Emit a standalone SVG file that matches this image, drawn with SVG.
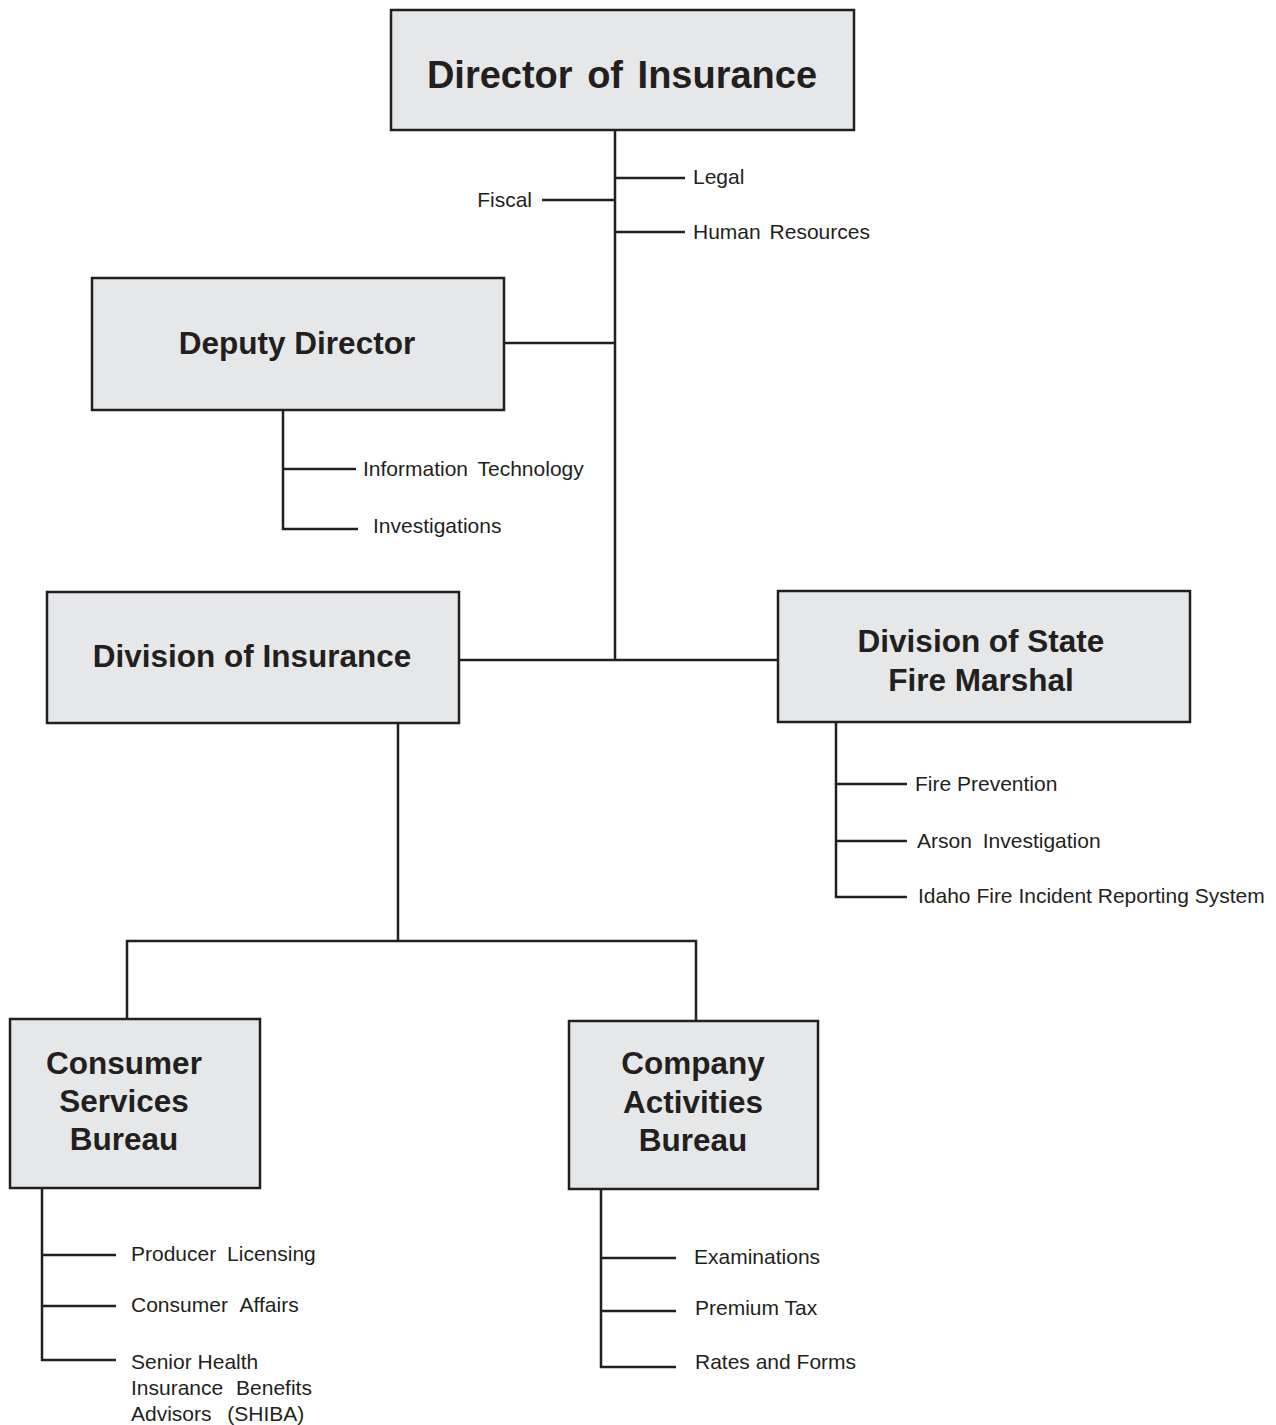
<svg xmlns="http://www.w3.org/2000/svg" width="1276" height="1425" viewBox="0 0 1276 1425">
<style>
.box{fill:#e6e7e8;stroke:#231f20;stroke-width:2.5}
.ln{stroke:#231f20;stroke-width:2.5;fill:none}
.t{font-family:"Liberation Sans",Arial,sans-serif;fill:#231f20}
.h{font-weight:bold;font-size:31.5px;text-anchor:middle}
.s{font-size:21px}
</style>
<rect width="1276" height="1425" fill="#ffffff"/>
<g id="connectors">
<path class="ln" d="M615 130V660M615 178H685M542 200H615M615 232H685M504 343H615M459 660H778"/>
<path class="ln" d="M283 410V529H358M283 469H356"/>
<path class="ln" d="M836 722V897H907M836 784H907M836 841H907"/>
<path class="ln" d="M398 723V941M127 1019V941H696V1021"/>
<path class="ln" d="M42 1188V1360H116M42 1255H116M42 1306H116"/>
<path class="ln" d="M601 1189V1367H676M601 1258H676M601 1311H676"/>
</g>
<g id="director">
<rect class="box" x="391" y="10" width="463" height="120"/>
<text class="t h" x="622" y="88" style="font-size:38px;word-spacing:4px">Director of Insurance</text>
</g>
<g id="fiscal"><text class="t s" x="532" y="207" text-anchor="end">Fiscal</text></g>
<g id="legal"><text class="t s" x="693" y="184">Legal</text></g>
<g id="hr"><text class="t s" x="693" y="239" word-spacing="3">Human Resources</text></g>
<g id="deputy">
<rect class="box" x="92" y="278" width="412" height="132"/>
<text class="t h" x="297" y="354">Deputy Director</text>
</g>
<g id="it"><text class="t s" x="363" y="476" word-spacing="4">Information Technology</text></g>
<g id="investigations"><text class="t s" x="373" y="533">Investigations</text></g>
<g id="doi">
<rect class="box" x="47" y="592" width="412" height="131"/>
<text class="t h" x="252" y="667">Division of Insurance</text>
</g>
<g id="sfm">
<rect class="box" x="778" y="591" width="412" height="131"/>
<text class="t h" x="981" y="652">Division of State</text>
<text class="t h" x="981" y="691">Fire Marshal</text>
</g>
<g id="fireprev"><text class="t s" x="915" y="791">Fire Prevention</text></g>
<g id="arson"><text class="t s" x="917" y="848" word-spacing="5">Arson Investigation</text></g>
<g id="ifirs"><text class="t s" x="918" y="903">Idaho Fire Incident Reporting System</text></g>
<g id="csb">
<rect class="box" x="10" y="1019" width="250" height="169"/>
<text class="t h" x="124" y="1074">Consumer</text>
<text class="t h" x="124" y="1112">Services</text>
<text class="t h" x="124" y="1150">Bureau</text>
</g>
<g id="producer"><text class="t s" x="131" y="1261" word-spacing="5">Producer Licensing</text></g>
<g id="affairs"><text class="t s" x="131" y="1312" word-spacing="7">Consumer Affairs</text></g>
<g id="shiba">
<text class="t s" x="131" y="1369">Senior Health</text>
<text class="t s" x="131" y="1395" word-spacing="7">Insurance Benefits</text>
<text class="t s" x="131" y="1421" word-spacing="10">Advisors (SHIBA)</text>
</g>
<g id="cab">
<rect class="box" x="569" y="1021" width="249" height="168"/>
<text class="t h" x="693" y="1074">Company</text>
<text class="t h" x="693" y="1113">Activities</text>
<text class="t h" x="693" y="1151">Bureau</text>
</g>
<g id="exams"><text class="t s" x="694" y="1264">Examinations</text></g>
<g id="premium"><text class="t s" x="695" y="1315">Premium Tax</text></g>
<g id="rates"><text class="t s" x="695" y="1369">Rates and Forms</text></g>
</svg>
